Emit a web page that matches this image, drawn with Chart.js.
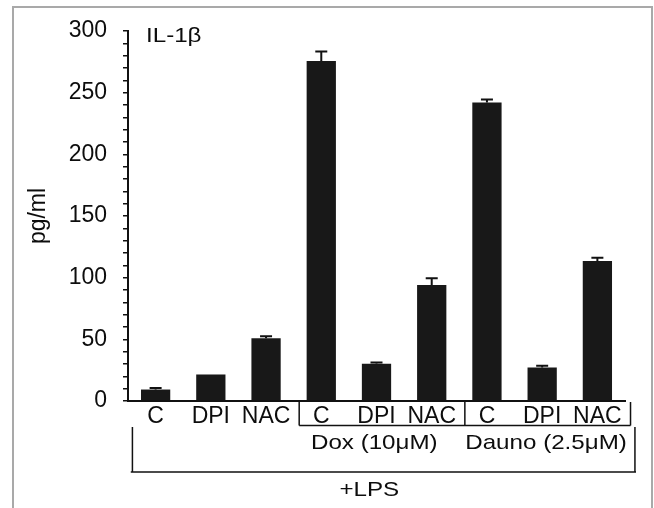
<!DOCTYPE html>
<html>
<head>
<meta charset="utf-8">
<script src="https://cdn.jsdelivr.net/npm/chart.js@4.4.1/dist/chart.umd.min.js"></script>
<style>
    html, body { margin: 0; padding: 0; background: #fff; }
    #chart-wrap { position: relative; width: 654px; height: 508px; }
</style>
</head>
<body>
<div id="chart-wrap"><canvas id="il1bChart" width="654" height="508"></canvas></div>
<script>
// Treatments along the x axis (3 groups of 3)
const categories = ['C', 'DPI', 'NAC', 'C', 'DPI', 'NAC', 'C', 'DPI', 'NAC'];

// IL-1β in pg/ml
const il1bValues = [9.3, 21.5, 50.8, 275.6, 30.2, 94.0, 242.1, 27.2, 113.5];

// Upper error bar (SD) for each bar
const il1bErrors = [1.2, 0, 1.6, 7.8, 1.1, 5.5, 2.4, 1.3, 2.7];

// Y axis: labelled ticks every 50, minor ticks every 10
const yTickLabels = [0, 50, 100, 150, 200, 250, 300];

const FONT_FAMILY = '"Liberation Sans", Arial, Helvetica, sans-serif';
const TEXT_COLOR = '#0d0d0d';
const BAR_COLOR = '#181818';

/**
 * Draws the upper error bars on top of each bar.
 */
const errorBarPlugin = {
    id: 'errorBars',
    afterDatasetsDraw(chart) {
        const { ctx } = chart;
        const meta = chart.getDatasetMeta(0);
        const yScale = chart.scales.y;

        ctx.save();
        ctx.strokeStyle = '#111';
        ctx.lineWidth = 2;
        meta.data.forEach((bar, i) => {
            const err = il1bErrors[i];
            if (!err) return;
            const yTop = yScale.getPixelForValue(il1bValues[i] + err);
            ctx.beginPath();
            ctx.moveTo(bar.x, bar.y);
            ctx.lineTo(bar.x, yTop);
            ctx.moveTo(bar.x - 6, yTop);
            ctx.lineTo(bar.x + 6, yTop);
            ctx.stroke();
        });
        ctx.restore();
    }
};

/**
 * Writes text slightly widened, as the type in the figure is.
 */
function wideText(ctx, text, x, y, align) {
    const stretch = 1.15;
    const w = ctx.measureText(text).width * stretch;
    let left = x;
    if (align === 'center') left = x - w / 2;
    ctx.save();
    ctx.translate(left, y);
    ctx.scale(stretch, 1);
    ctx.textAlign = 'left';
    ctx.fillText(text, 0, 0);
    ctx.restore();
}

/**
 * Draws the frame, the IL-1β tag and the group brackets under the x axis.
 */
const annotationPlugin = {
    id: 'annotations',
    beforeDraw(chart) {
        const { ctx } = chart;
        ctx.save();
        ctx.strokeStyle = '#a9a9a9';
        ctx.lineWidth = 2;
        ctx.beginPath();
        ctx.moveTo(13, chart.height);
        ctx.lineTo(13, 7);
        ctx.lineTo(652, 7);
        ctx.lineTo(652, chart.height);
        ctx.stroke();
        ctx.restore();
    },
    afterDraw(chart) {
        const { ctx, chartArea } = chart;
        const x = chart.scales.x;
        const base = chartArea.bottom;
        const px = v => x.getPixelForValue(v);

        ctx.save();
        ctx.fillStyle = TEXT_COLOR;
        ctx.font = '21px ' + FONT_FAMILY;
        ctx.textBaseline = 'alphabetic';

        // Cytokine tag inside the plot
        wideText(ctx, 'IL-1β', chartArea.left + 18, chartArea.top + 11, 'left');

        // Dox / Dauno brackets
        ctx.strokeStyle = '#111';
        ctx.lineWidth = 1.5;
        const sepY = base + 24.5;
        ctx.beginPath();
        [2.6, 5.6, 8.6].forEach(v => {
            ctx.moveTo(px(v), base + 1);
            ctx.lineTo(px(v), sepY);
        });
        ctx.moveTo(px(2.6), sepY);
        ctx.lineTo(px(8.6), sepY);

        // +LPS bracket round everything
        const outerY = base + 71;
        ctx.moveTo(px(-0.42), sepY + 1.5);
        ctx.lineTo(px(-0.42), outerY);
        ctx.moveTo(px(-0.45), outerY);
        ctx.lineTo(px(8.7), outerY);
        ctx.moveTo(px(8.68), sepY + 1.5);
        ctx.lineTo(px(8.68), outerY);
        ctx.stroke();

        wideText(ctx, 'Dox (10μM)', px(3.96), base + 48, 'center');
        wideText(ctx, 'Dauno (2.5μM)', px(7.07), base + 48, 'center');
        wideText(ctx, '+LPS', px(3.87), base + 95, 'center');
        ctx.restore();
    }
};

/**
 * Builds the bar chart.
 */
function initializeChart() {
    const ctx = document.getElementById('il1bChart');

    new Chart(ctx, {
        type: 'bar',
        data: {
            labels: categories,
            datasets: [{
                label: 'IL-1β',
                data: il1bValues,
                backgroundColor: BAR_COLOR,
                borderWidth: 0,
                categoryPercentage: 1,
                barPercentage: 0.53
            }]
        },
        options: {
            responsive: false,
            animation: false,
            devicePixelRatio: 1,
            layout: {
                padding: { top: 31, right: 29, left: 0, bottom: 0 }
            },
            plugins: {
                legend: { display: false },
                tooltip: { enabled: false }
            },
            scales: {
                x: {
                    grid: { display: false, drawTicks: false },
                    border: { display: true, color: '#111', width: 2 },
                    ticks: {
                        color: TEXT_COLOR,
                        font: { family: FONT_FAMILY, size: 23 },
                        padding: 2,
                        maxRotation: 0,
                        autoSkip: false
                    },
                    afterFit(scale) { scale.height = 107; }
                },
                y: {
                    min: 0,
                    max: 300,
                    grid: {
                        display: true,
                        drawOnChartArea: false,
                        drawTicks: true,
                        tickLength: 5,
                        color: '#111',
                        lineWidth: 1.5
                    },
                    border: { display: true, color: '#111', width: 2 },
                    ticks: {
                        stepSize: 10,
                        autoSkip: false,
                        padding: 16,
                        color: TEXT_COLOR,
                        font: { family: FONT_FAMILY, size: 23 },
                        callback: v => (yTickLabels.includes(v) ? v : '')
                    },
                    title: {
                        display: true,
                        text: 'pg/ml',
                        color: TEXT_COLOR,
                        font: { family: FONT_FAMILY, size: 23 },
                        padding: { top: 25, bottom: 0 }
                    },
                    afterFit(scale) { scale.width = 128; }
                }
            }
        },
        plugins: [errorBarPlugin, annotationPlugin]
    });
}

document.addEventListener('DOMContentLoaded', initializeChart);
</script>
</body>
</html>
